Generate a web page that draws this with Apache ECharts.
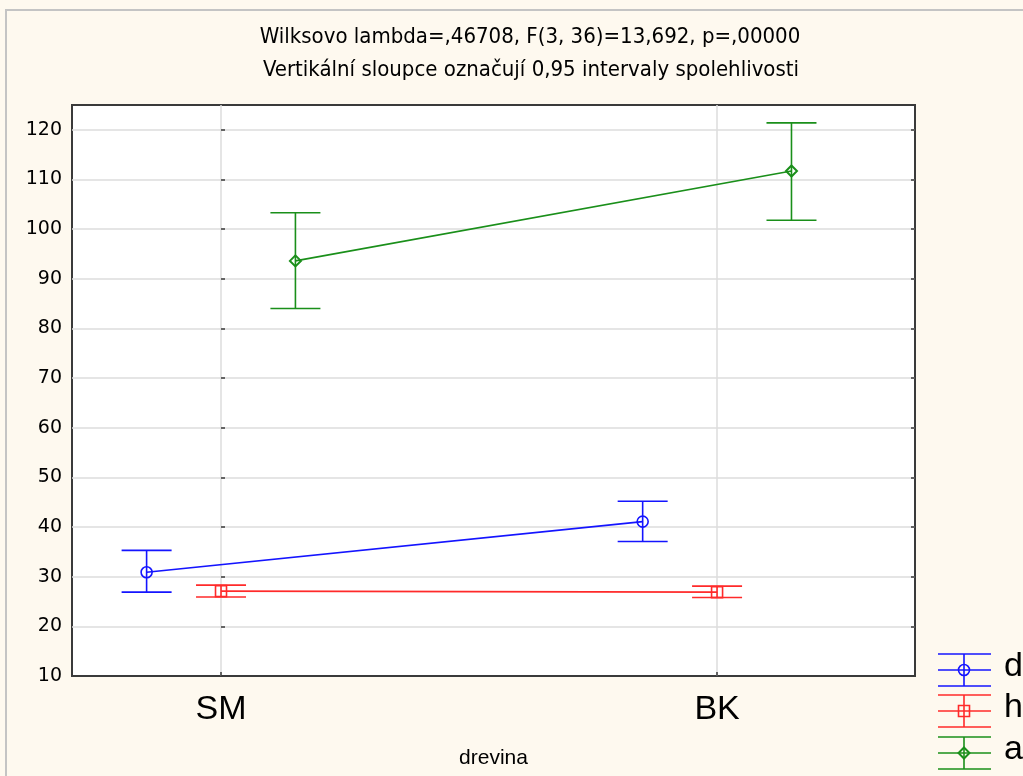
<!DOCTYPE html>
<html>
<head>
<meta charset="utf-8">
<script src="https://cdn.jsdelivr.net/npm/echarts@6/dist/echarts.min.js"></script>
<style>
html,body{margin:0;padding:0;background:#fef9ef;}
#chart{width:1023px;height:776px;}
</style>
</head>
<body>
<div id="chart"></div>
<script>
// ---- data ----
const categories = ['SM', 'BK'];
const groupNames = ['d', 'h', 'a'];
const mean_d = [30.9, 41.1];
const lower_d = [26.9, 37.1];
const upper_d = [35.3, 45.2];
const mean_h = [27.1, 26.9];
const lower_h = [25.9, 25.8];
const upper_h = [28.3, 28.1];
const mean_a = [93.6, 111.7];
const lower_a = [84.0, 101.8];
const upper_a = [103.3, 121.4];
const yTicks = [10, 20, 30, 40, 50, 60, 70, 80, 90, 100, 110, 120];
const titleLines = ['Wilksovo lambda=,46708, F(3, 36)=13,692, p=,00000',
                    'Vertikální sloupce označují 0,95 intervaly spolehlivosti'];
const xAxisName = 'drevina';

// ---- styling / layout ----
const colors = ['#1414ff', '#ff2a2a', '#1a8f1a'];
const symbols = ['circle', 'rect', 'diamond'];
const offsets = [-0.15, 0, 0.15];
const FONT = 'Liberation Sans, Arial, sans-serif';
const TITLE_FONT = '"DejaVu Sans Condensed", "Liberation Sans Narrow", sans-serif';

const groups = [
  {mean: mean_d, lower: lower_d, upper: upper_d},
  {mean: mean_h, lower: lower_h, upper: upper_h},
  {mean: mean_a, lower: lower_a, upper: upper_a}
];

function markerShape(kind, x, y, color) {
  const s = 5.5;
  const style = {stroke: color, fill: 'none', lineWidth: 1.6};
  if (kind === 'circle') return {type: 'circle', shape: {cx: x, cy: y, r: s}, style};
  if (kind === 'rect') return {type: 'rect', shape: {x: x - s, y: y - s, width: 2 * s, height: 2 * s}, style};
  return {type: 'polygon', shape: {points: [[x, y - s], [x + s, y], [x, y + s], [x - s, y]]}, style: {stroke: color, fill: 'none', lineWidth: 2}};
}

const series = [];
groups.forEach((g, gi) => {
  const pts = categories.map((c, ci) => [ci + offsets[gi], g.mean[ci]]);
  series.push({
    type: 'line', name: groupNames[gi], data: pts, showSymbol: false, symbol: 'none',
    lineStyle: {color: colors[gi], width: 1.6}, silent: true, z: 3
  });
  const ebData = categories.map((c, ci) => [ci + offsets[gi], g.mean[ci], g.lower[ci], g.upper[ci]]);
  series.push({
    type: 'custom', name: groupNames[gi] + '_err', data: ebData, z: 4, silent: true,
    renderItem: function (params, api) {
      const x = api.value(0);
      const m = api.coord([x, api.value(1)]);
      const lo = api.coord([x, api.value(2)]);
      const hi = api.coord([x, api.value(3)]);
      const hw = 25;
      const ls = {stroke: colors[gi], lineWidth: 1.6};
      return {
        type: 'group',
        children: [
          markerShape(symbols[gi], m[0], m[1], colors[gi]),
          {type: 'line', shape: {x1: lo[0], y1: lo[1], x2: hi[0], y2: hi[1]}, style: ls},
          {type: 'line', shape: {x1: lo[0] - hw, y1: lo[1], x2: lo[0] + hw, y2: lo[1]}, style: ls},
          {type: 'line', shape: {x1: hi[0] - hw, y1: hi[1], x2: hi[0] + hw, y2: hi[1]}, style: ls}
        ]
      };
    }
  });
});

// legend graphics
const legendGraphics = [];
const legendY = [670, 711, 753];
groupNames.forEach((n, i) => {
  const cx = 964, cy = legendY[i], c = colors[i];
  const ls = {stroke: c, lineWidth: 1.6};
  [-16, 0, 16].forEach(dy => legendGraphics.push({type: 'line', shape: {x1: 938, y1: cy + dy, x2: 991, y2: cy + dy}, style: ls, z: 10}));
  legendGraphics.push({type: 'line', shape: {x1: cx, y1: cy - 16, x2: cx, y2: cy + 16}, style: ls, z: 10});
  const mk = markerShape(symbols[i], cx, cy, c);
  mk.z = 11;
  legendGraphics.push(mk);
  legendGraphics.push({type: 'text', left: 1004, top: cy - 20, z: 10,
    style: {text: n, font: '34px ' + FONT, fill: '#000'}});
});

const chart = echarts.init(document.getElementById('chart'), null, {renderer: 'canvas'});
chart.setOption({
  backgroundColor: '#fef9ef',
  animation: false,
  title: [
    {text: titleLines[0], left: 525, textAlign: 'center', top: 21, textStyle: {fontFamily: TITLE_FONT, fontSize: 22, fontWeight: 'normal', color: '#000'}},
    {text: titleLines[1], left: 526, textAlign: 'center', top: 54, textStyle: {fontFamily: TITLE_FONT, fontSize: 22, fontWeight: 'normal', color: '#000'}}
  ],
  grid: {left: 72, top: 105, right: 108, bottom: 100, show: true, backgroundColor: '#fff', borderColor: '#3a3a3a', borderWidth: 2},
  xAxis: {
    type: 'value', min: -0.3004, max: 1.399,
    name: xAxisName, nameLocation: 'middle', nameGap: 72,
    nameTextStyle: {fontFamily: FONT, fontSize: 21, color: '#000'},
    axisLine: {show: false},
    axisTick: {show: true, inside: true, length: 4, customValues: [0, 1], lineStyle: {color: '#3a3a3a', width: 1.5}},
    axisLabel: {customValues: [0, 1], formatter: v => categories[Math.round(v)] || '', fontFamily: FONT, fontSize: 34, color: '#000', margin: 17},
    splitLine: {show: true, lineStyle: {color: '#dcdcdc', width: 1.5}}
  },
  yAxis: [{
    type: 'value', min: 10, max: 125, interval: 10,
    axisLine: {show: false},
    axisTick: {show: true, inside: true, length: 4, lineStyle: {color: '#3a3a3a', width: 1.5}},
    axisLabel: {showMaxLabel: false, fontFamily: 'DejaVu Sans, sans-serif', fontSize: 19, color: '#000', margin: 10},
    splitLine: {show: true, showMinLine: false, showMaxLine: false, lineStyle: {color: '#dcdcdc', width: 1.5}}
  }, {
    type: 'value', min: 10, max: 125, interval: 10, position: 'right',
    axisLine: {show: false},
    axisTick: {show: true, inside: true, length: 4, lineStyle: {color: '#3a3a3a', width: 1.5}},
    axisLabel: {show: false},
    splitLine: {show: false}
  }],
  series: series,
  graphic: [
    {type: 'rect', shape: {x: 6, y: 10, width: 1100, height: 800}, style: {fill: 'none', stroke: '#c4c4c4', lineWidth: 2}, z: -1, silent: true}
  ].concat(legendGraphics)
});
</script>
</body>
</html>
